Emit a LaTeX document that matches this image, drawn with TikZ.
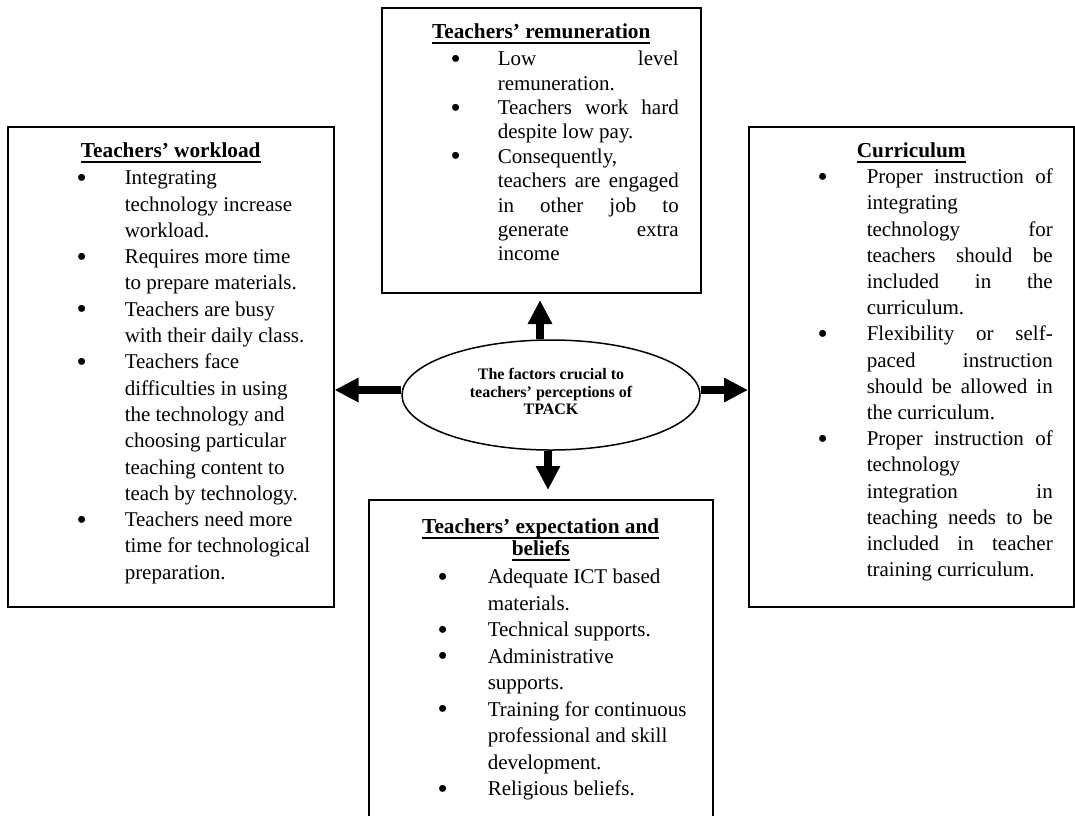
\documentclass[tikz,border=0pt]{standalone}
\usepackage{fontspec}
\setmainfont{Liberation Serif}
\usetikzlibrary{arrows.meta,shapes.geometric,backgrounds}

\newlength\tx
\newlength\cw
% zero-height line of the full box width
\newcommand\Lz[1]{\setbox0=\hbox to\hsize{#1}\ht0=0pt \dp0=0pt \box0}
\newcommand\Bul{\hbox to 0pt{\hskip 68.9pt\raisebox{-2.6pt}{\fontsize{29}{29}\selectfont\textbullet}\hss}}
\newcommand\It[1]{\Lz{\Bul\hskip\tx #1\hss}}
\newcommand\Co[1]{\Lz{\hskip\tx #1\hss}}
\newcommand\JIt[1]{\Lz{\Bul\hskip\tx\hbox to\cw{#1}\hss}}
\newcommand\JCo[1]{\Lz{\hskip\tx\hbox to\cw{#1}\hss}}
\newcommand\ulbf[1]{\setbox2=\hbox{\bfseries\fontsize{21.3}{24}\selectfont #1}\rlap{\vrule height -3.2pt depth 4.8pt width\wd2}\box2}
\newcommand\Ttl[1]{\Lz{\hss\ulbf{#1}\hss}}

\begin{document}
\begin{tikzpicture}[x=1pt,y=-1pt,
  box/.style={draw, line width=1.5pt, inner sep=0pt, anchor=north west},
  bigarrow/.style={line width=7.5pt, -{Triangle[width=23pt,length=24pt]}},
  oval/.style={ellipse, draw, fill=white, line width=1.5pt, minimum width=298pt,
    minimum height=110pt, inner sep=0pt, align=center,
    font=\bfseries\fontsize{16}{17.5}\selectfont}]
\useasboundingbox (0,0) rectangle (1075,815);

% Top box
\node[box] (rem) at (381,7) {\vbox to 285pt{\hsize=319pt \fontsize{21}{24.4}\selectfont
\lineskiplimit=-\maxdimen \lineskip=0pt \tx=116pt \cw=181pt
\vskip31pt \Ttl{Teachers’ remuneration}
\baselineskip=27pt
\JIt{Low\hfill level}
\baselineskip=24.4pt
\Co{remuneration.}
\JIt{Teachers\hfill work\hfill hard}
\Co{despite low pay.}
\It{Consequently,}
\JCo{teachers\hfill are\hfill engaged}
\JCo{in\hfill other\hfill job\hfill to}
\JCo{generate\hfill extra}
\Co{income}
\vss}};

% Left box
\node[box] (wl) at (7,126) {\vbox to 480pt{\hsize=326pt \fontsize{21}{26.3}\selectfont
\lineskiplimit=-\maxdimen \lineskip=0pt \tx=117pt \cw=190pt
\vskip31pt \Ttl{Teachers’ workload}
\baselineskip=27pt
\It{Integrating}
\baselineskip=26.3pt
\Co{technology increase}
\Co{workload.}
\It{Requires more time}
\Co{to prepare materials.}
\It{Teachers are busy}
\Co{with their daily class.}
\It{Teachers face}
\Co{difficulties in using}
\Co{the technology and}
\Co{choosing particular}
\Co{teaching content to}
\Co{teach by technology.}
\It{Teachers need more}
\Co{time for technological}
\Co{preparation.}
\vss}};

% Right box
\node[box] (cur) at (748,126) {\vbox to 480pt{\hsize=325pt \fontsize{21}{26.2}\selectfont
\lineskiplimit=-\maxdimen \lineskip=0pt \tx=118pt \cw=186pt
\vskip31pt \Ttl{Curriculum}
\baselineskip=26pt
\JIt{Proper\hfill instruction\hfill of}
\baselineskip=26.2pt
\Co{integrating}
\JCo{technology\hfill for}
\JCo{teachers\hfill should\hfill be}
\JCo{included\hfill in\hfill the}
\Co{curriculum.}
\JIt{Flexibility\hfill or\hfill self-}
\JCo{paced\hfill instruction}
\JCo{should\hfill be\hfill allowed\hfill in}
\Co{the curriculum.}
\JIt{Proper\hfill instruction\hfill of}
\Co{technology}
\JCo{integration\hfill in}
\JCo{teaching\hfill needs\hfill to\hfill be}
\JCo{included\hfill in\hfill teacher}
\Co{training curriculum.}
\vss}};

% Bottom box (runs past the lower edge)
\node[box] (exp) at (368,499) {\vbox to 322pt{\hsize=344pt \fontsize{21}{26.5}\selectfont
\lineskiplimit=-\maxdimen \lineskip=0pt \tx=119pt \cw=200pt
\vskip34pt \Ttl{Teachers’ expectation and}
\baselineskip=22pt
\Ttl{beliefs}
\baselineskip=28pt
\It{Adequate ICT based}
\baselineskip=26.5pt
\Co{materials.}
\It{Technical supports.}
\It{Administrative}
\Co{supports.}
\It{Training for continuous}
\Co{professional and skill}
\Co{development.}
\It{Religious beliefs.}
\vss}};

% Centre ellipse
\node[oval] (ell) at (551,395) {The factors crucial to\\teachers’ perceptions of\\TPACK\rule[-7pt]{0pt}{7pt}};

\coordinate (uptip) at (540,300);
\coordinate (dntip) at (548,490);

\begin{scope}[on background layer]
\fill[white] (0,0) rectangle (1075,815);
\draw[bigarrow] ([xshift=-11pt]ell.north) -- (uptip);
\draw[bigarrow] ([xshift=-3pt]ell.south) -- (dntip);
\draw[bigarrow] ([yshift=5pt]ell.west) -- ([yshift=5pt]ell.west -| wl.east);
\draw[bigarrow] ([yshift=5pt]ell.east) -- ([yshift=5pt]ell.east -| cur.west);
\end{scope}
\end{tikzpicture}
\end{document}
